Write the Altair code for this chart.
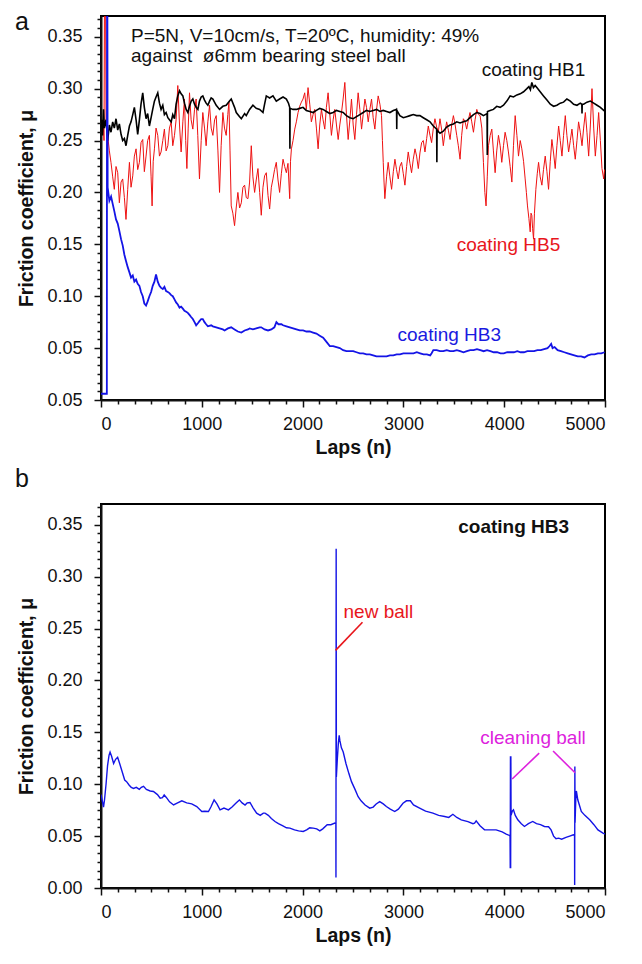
import altair as alt
import pandas as pd

# ---------------- Panel a data (laps, friction coefficient) ----------------
hb1_a = [[5,0.270],[15,0.255],[25,0.280],[33,0.262],[50,0.270],[66,0.250],[83,0.265],[99,0.258],[116,0.268],[132,0.262],[149,0.271],[166,0.260],[182,0.266],[199,0.256],[215,0.250],[232,0.252],[248,0.245],[265,0.255],[282,0.264],[298,0.268],[315,0.275],[331,0.282],[348,0.270],[364,0.256],[381,0.270],[397,0.285],[414,0.296],[430,0.282],[447,0.271],[463,0.276],[480,0.264],[497,0.272],[513,0.280],[530,0.288],[546,0.292],[563,0.296],[580,0.286],[596,0.280],[613,0.284],[629,0.275],[646,0.277],[663,0.272],[679,0.270],[696,0.268],[712,0.275],[729,0.271],[745,0.285],[762,0.293],[779,0.298],[795,0.295],[812,0.293],[828,0.286],[845,0.280],[862,0.277],[878,0.283],[895,0.288],[911,0.290],[928,0.285],[944,0.282],[961,0.280],[977,0.288],[994,0.292],[1010,0.293],[1027,0.289],[1043,0.286],[1060,0.284],[1077,0.288],[1093,0.291],[1110,0.290],[1143,0.284],[1176,0.280],[1209,0.283],[1242,0.284],[1275,0.288],[1292,0.290],[1325,0.282],[1342,0.277],[1375,0.273],[1392,0.271],[1425,0.276],[1441,0.274],[1474,0.280],[1507,0.284],[1540,0.281],[1574,0.280],[1607,0.277],[1623,0.285],[1640,0.293],[1673,0.291],[1706,0.293],[1739,0.288],[1772,0.290],[1806,0.292],[1839,0.290],[1860,0.286],[1872,0.282],[1874,0.242],[1876,0.281],[1905,0.280],[1938,0.280],[1971,0.281],[2004,0.282],[2037,0.279],[2071,0.278],[2104,0.277],[2137,0.279],[2170,0.281],[2203,0.280],[2236,0.278],[2270,0.276],[2303,0.277],[2336,0.279],[2369,0.278],[2402,0.277],[2435,0.274],[2469,0.272],[2502,0.271],[2535,0.273],[2568,0.275],[2601,0.277],[2634,0.279],[2667,0.278],[2701,0.279],[2734,0.280],[2767,0.278],[2800,0.279],[2833,0.278],[2866,0.277],[2900,0.279],[2932,0.280],[2934,0.261],[2936,0.279],[2965,0.274],[2999,0.272],[3032,0.273],[3065,0.274],[3098,0.275],[3131,0.274],[3164,0.274],[3197,0.272],[3231,0.270],[3264,0.268],[3297,0.264],[3330,0.261],[3332,0.229],[3334,0.260],[3363,0.257],[3396,0.259],[3429,0.263],[3463,0.265],[3496,0.266],[3529,0.268],[3562,0.267],[3595,0.268],[3628,0.269],[3661,0.272],[3695,0.275],[3728,0.277],[3761,0.276],[3794,0.274],[3830,0.276],[3832,0.236],[3834,0.278],[3860,0.279],[3893,0.280],[3926,0.283],[3960,0.282],[3993,0.284],[4026,0.288],[4059,0.293],[4092,0.292],[4126,0.294],[4159,0.295],[4192,0.297],[4225,0.300],[4245,0.302],[4260,0.299],[4274,0.306],[4290,0.301],[4307,0.303],[4324,0.301],[4357,0.297],[4390,0.293],[4424,0.289],[4457,0.285],[4490,0.283],[4523,0.284],[4556,0.286],[4589,0.287],[4622,0.290],[4656,0.288],[4689,0.285],[4722,0.284],[4755,0.286],[4770,0.285],[4772,0.276],[4774,0.285],[4788,0.285],[4821,0.287],[4855,0.288],[4888,0.286],[4921,0.284],[4954,0.282],[4987,0.279],[5000,0.278]]

hb5_a = [[20,0.27],[30,0.25],[35,0.40],[45,0.40],[50,0.27],[66,0.255],[83,0.240],[99,0.229],[116,0.215],[132,0.203],[149,0.225],[166,0.219],[182,0.190],[199,0.210],[215,0.213],[232,0.195],[248,0.174],[265,0.203],[282,0.229],[298,0.205],[315,0.216],[331,0.235],[348,0.242],[364,0.222],[381,0.229],[397,0.248],[414,0.251],[430,0.220],[447,0.235],[463,0.250],[480,0.255],[497,0.215],[507,0.187],[518,0.230],[530,0.242],[546,0.262],[563,0.255],[580,0.235],[596,0.239],[613,0.250],[629,0.261],[646,0.240],[663,0.245],[679,0.262],[696,0.268],[712,0.245],[729,0.255],[745,0.270],[762,0.303],[779,0.265],[795,0.239],[812,0.268],[828,0.290],[840,0.250],[852,0.223],[865,0.262],[878,0.296],[894,0.270],[911,0.261],[928,0.280],[944,0.290],[960,0.255],[977,0.213],[994,0.250],[1010,0.277],[1027,0.262],[1043,0.245],[1060,0.268],[1077,0.284],[1093,0.262],[1110,0.255],[1127,0.270],[1143,0.274],[1160,0.240],[1176,0.200],[1192,0.245],[1209,0.277],[1225,0.262],[1242,0.255],[1258,0.275],[1269,0.287],[1280,0.240],[1292,0.187],[1308,0.180],[1325,0.168],[1341,0.185],[1358,0.200],[1375,0.185],[1392,0.190],[1408,0.205],[1425,0.207],[1441,0.195],[1458,0.194],[1474,0.210],[1491,0.245],[1507,0.215],[1524,0.200],[1540,0.212],[1557,0.223],[1574,0.200],[1590,0.178],[1607,0.205],[1623,0.216],[1640,0.219],[1657,0.197],[1673,0.184],[1690,0.205],[1706,0.213],[1722,0.222],[1739,0.229],[1756,0.212],[1772,0.200],[1789,0.218],[1806,0.232],[1822,0.225],[1839,0.219],[1855,0.228],[1872,0.194],[1880,0.230],[1889,0.242],[1905,0.250],[1922,0.261],[1938,0.268],[1955,0.277],[1971,0.283],[1988,0.287],[2004,0.290],[2021,0.296],[2037,0.280],[2054,0.301],[2071,0.285],[2087,0.268],[2104,0.275],[2120,0.280],[2137,0.262],[2154,0.242],[2170,0.265],[2187,0.280],[2203,0.270],[2220,0.261],[2236,0.282],[2253,0.296],[2270,0.275],[2286,0.255],[2303,0.270],[2319,0.280],[2336,0.265],[2353,0.251],[2369,0.265],[2386,0.277],[2402,0.290],[2419,0.306],[2435,0.275],[2452,0.251],[2469,0.270],[2485,0.290],[2502,0.265],[2518,0.251],[2535,0.275],[2551,0.296],[2568,0.280],[2585,0.261],[2601,0.275],[2618,0.290],[2634,0.282],[2651,0.268],[2667,0.280],[2684,0.290],[2700,0.272],[2717,0.261],[2734,0.280],[2750,0.293],[2767,0.285],[2783,0.274],[2792,0.250],[2800,0.229],[2808,0.210],[2816,0.194],[2833,0.215],[2849,0.229],[2866,0.215],[2883,0.203],[2900,0.220],[2916,0.232],[2932,0.222],[2949,0.213],[2965,0.225],[2982,0.229],[2999,0.218],[3015,0.207],[3032,0.225],[3048,0.239],[3065,0.228],[3081,0.219],[3098,0.232],[3115,0.242],[3131,0.235],[3148,0.223],[3164,0.238],[3181,0.248],[3197,0.250],[3214,0.239],[3231,0.252],[3247,0.264],[3264,0.255],[3280,0.248],[3297,0.262],[3313,0.271],[3330,0.263],[3346,0.258],[3363,0.271],[3380,0.260],[3396,0.245],[3413,0.258],[3429,0.268],[3446,0.260],[3463,0.251],[3479,0.265],[3496,0.274],[3512,0.266],[3529,0.255],[3545,0.245],[3562,0.232],[3578,0.255],[3595,0.271],[3612,0.268],[3628,0.261],[3645,0.270],[3661,0.277],[3678,0.268],[3695,0.258],[3711,0.270],[3728,0.280],[3745,0.275],[3761,0.274],[3778,0.262],[3794,0.229],[3808,0.200],[3820,0.187],[3832,0.215],[3844,0.245],[3861,0.255],[3877,0.261],[3893,0.240],[3910,0.219],[3926,0.240],[3943,0.255],[3960,0.245],[3976,0.229],[3993,0.245],[4009,0.258],[4026,0.250],[4042,0.239],[4059,0.225],[4076,0.210],[4092,0.245],[4109,0.274],[4126,0.255],[4142,0.235],[4159,0.250],[4175,0.242],[4192,0.230],[4208,0.213],[4220,0.200],[4231,0.187],[4245,0.175],[4258,0.162],[4266,0.180],[4274,0.178],[4282,0.165],[4291,0.155],[4300,0.180],[4314,0.203],[4328,0.218],[4341,0.229],[4357,0.215],[4374,0.207],[4390,0.222],[4407,0.235],[4424,0.220],[4440,0.203],[4457,0.230],[4473,0.251],[4490,0.238],[4506,0.223],[4523,0.245],[4540,0.264],[4556,0.250],[4573,0.235],[4589,0.255],[4606,0.274],[4622,0.255],[4639,0.239],[4656,0.250],[4672,0.261],[4689,0.245],[4705,0.232],[4722,0.250],[4738,0.268],[4755,0.258],[4772,0.245],[4788,0.262],[4805,0.277],[4821,0.258],[4838,0.235],[4855,0.265],[4871,0.300],[4888,0.262],[4904,0.235],[4921,0.255],[4937,0.277],[4954,0.250],[4970,0.223],[4987,0.213],[4995,0.222]]

hb3_a = [[0,0.006],[58,0.006],[60,0.40],[63,0.40],[66,0.205],[83,0.192],[100,0.196],[116,0.189],[132,0.182],[149,0.174],[166,0.170],[182,0.163],[199,0.155],[215,0.149],[232,0.140],[248,0.134],[265,0.128],[282,0.123],[298,0.118],[315,0.120],[331,0.114],[348,0.116],[364,0.112],[381,0.110],[397,0.104],[414,0.100],[430,0.093],[447,0.091],[463,0.095],[480,0.100],[497,0.104],[513,0.110],[530,0.114],[546,0.121],[563,0.114],[580,0.110],[596,0.108],[613,0.107],[629,0.109],[646,0.105],[663,0.104],[679,0.103],[696,0.101],[712,0.100],[729,0.097],[745,0.094],[762,0.092],[779,0.089],[795,0.090],[812,0.088],[828,0.086],[845,0.085],[861,0.084],[878,0.082],[894,0.080],[911,0.078],[928,0.075],[944,0.072],[961,0.074],[977,0.076],[994,0.078],[1010,0.078],[1027,0.075],[1043,0.073],[1060,0.071],[1093,0.072],[1110,0.071],[1143,0.070],[1176,0.069],[1209,0.068],[1226,0.067],[1259,0.069],[1292,0.070],[1325,0.068],[1358,0.066],[1392,0.065],[1425,0.067],[1458,0.068],[1474,0.069],[1507,0.068],[1540,0.069],[1574,0.070],[1590,0.070],[1623,0.068],[1657,0.067],[1690,0.068],[1720,0.070],[1740,0.075],[1760,0.073],[1790,0.073],[1806,0.072],[1840,0.071],[1873,0.070],[1906,0.069],[1939,0.068],[1972,0.067],[2005,0.067],[2038,0.066],[2071,0.066],[2104,0.065],[2137,0.064],[2170,0.062],[2204,0.060],[2237,0.056],[2270,0.052],[2303,0.052],[2336,0.051],[2369,0.050],[2402,0.048],[2435,0.047],[2469,0.047],[2502,0.047],[2535,0.046],[2568,0.045],[2601,0.045],[2634,0.044],[2667,0.044],[2700,0.043],[2733,0.042],[2766,0.042],[2800,0.042],[2833,0.042],[2866,0.043],[2900,0.043],[2933,0.044],[2966,0.044],[3000,0.045],[3033,0.045],[3066,0.045],[3100,0.045],[3133,0.046],[3166,0.045],[3200,0.044],[3233,0.044],[3266,0.043],[3280,0.045],[3297,0.048],[3330,0.048],[3363,0.047],[3396,0.047],[3430,0.048],[3463,0.047],[3496,0.047],[3530,0.048],[3563,0.047],[3596,0.046],[3630,0.047],[3663,0.048],[3696,0.048],[3730,0.049],[3763,0.048],[3796,0.047],[3830,0.048],[3863,0.047],[3896,0.046],[3930,0.046],[3963,0.045],[3996,0.045],[4030,0.046],[4063,0.046],[4096,0.046],[4130,0.047],[4163,0.046],[4196,0.046],[4230,0.047],[4263,0.047],[4296,0.047],[4330,0.048],[4363,0.048],[4396,0.049],[4430,0.050],[4450,0.052],[4466,0.054],[4480,0.050],[4500,0.051],[4530,0.048],[4563,0.047],[4596,0.046],[4630,0.045],[4663,0.044],[4696,0.043],[4730,0.042],[4763,0.042],[4796,0.041],[4830,0.043],[4863,0.044],[4896,0.044],[4930,0.045],[4963,0.045],[4996,0.046]]

# ---------------- Panel b data ----------------
hb3_b = [[0,0.090],[15,0.083],[25,0.078],[35,0.085],[50,0.100],[65,0.118],[80,0.128],[90,0.131],[105,0.127],[125,0.120],[145,0.124],[165,0.126],[185,0.120],[210,0.112],[235,0.104],[254,0.1025],[280,0.099],[300,0.097],[323,0.096],[350,0.097],[380,0.095],[400,0.097],[422,0.098],[450,0.095],[488,0.0935],[520,0.093],[560,0.090],[587,0.0865],[610,0.087],[627,0.0897],[650,0.087],[680,0.083],[720,0.080],[760,0.082],[802,0.084],[850,0.082],[900,0.081],[950,0.0785],[1000,0.0737],[1030,0.074],[1066,0.0737],[1090,0.078],[1122,0.0849],[1150,0.081],[1181,0.0753],[1220,0.077],[1264,0.0753],[1300,0.078],[1340,0.082],[1373,0.0849],[1400,0.082],[1429,0.080],[1450,0.082],[1478,0.0824],[1510,0.077],[1544,0.0721],[1580,0.070],[1610,0.0721],[1627,0.0721],[1660,0.070],[1690,0.067],[1726,0.0641],[1760,0.062],[1800,0.060],[1840,0.058],[1874,0.0577],[1920,0.056],[1960,0.055],[2006,0.0545],[2040,0.056],[2070,0.058],[2105,0.0577],[2140,0.057],[2171,0.055],[2200,0.057],[2244,0.0609],[2280,0.061],[2320,0.0625],[2330,0.062],[2331,0.010],[2333,0.327],[2335,0.107],[2345,0.125],[2355,0.140],[2363,0.147],[2370,0.142],[2385,0.135],[2403,0.131],[2430,0.120],[2460,0.110],[2485,0.1025],[2520,0.095],[2551,0.088],[2580,0.084],[2620,0.080],[2666,0.0769],[2700,0.078],[2730,0.081],[2765,0.0833],[2800,0.081],[2831,0.0785],[2870,0.076],[2914,0.0737],[2950,0.076],[2996,0.0817],[3030,0.084],[3069,0.0840],[3100,0.080],[3161,0.0769],[3220,0.074],[3293,0.0721],[3350,0.070],[3409,0.0689],[3450,0.068],[3491,0.071],[3530,0.068],[3574,0.0657],[3640,0.064],[3690,0.062],[3706,0.0625],[3722,0.0647],[3760,0.060],[3805,0.056],[3860,0.056],[3920,0.056],[3980,0.054],[4020,0.052],[4052,0.0506],[4058,0.050],[4060,0.019],[4062,0.127],[4064,0.019],[4066,0.127],[4068,0.070],[4080,0.074],[4092,0.0753],[4110,0.070],[4135,0.0657],[4170,0.062],[4201,0.0593],[4240,0.062],[4283,0.0641],[4320,0.062],[4360,0.061],[4399,0.0593],[4440,0.059],[4465,0.056],[4490,0.050],[4514,0.0474],[4540,0.048],[4570,0.047],[4613,0.0487],[4650,0.050],[4686,0.0513],[4698,0.051],[4699,0.003],[4701,0.117],[4703,0.063],[4710,0.085],[4716,0.0935],[4730,0.085],[4765,0.0737],[4800,0.070],[4848,0.0657],[4890,0.061],[4930,0.056],[4980,0.0529],[5000,0.052]]

# annotation texts: x, y, text, colour, weight
labels_a = [
    [298, 0.351, "P=5N, V=10cm/s, T=20\u00baC, humidity: 49%", "#111111", "normal"],
    [298, 0.331, "against \u00a0\u00f86mm bearing steel ball", "#111111", "normal"],
    [3777, 0.3175, "coating HB1", "#111111", "normal"],
    [3529, 0.149, "coating HB5", "#e8161c", "normal"],
    [2942, 0.0625, "coating HB3", "#1a1ae0", "normal"],
]
labels_b = [
    [3544, 0.348, "coating HB3", "#111111", "bold"],
    [2406, 0.266, "new ball", "#e8161c", "normal"],
    [3762, 0.145, "cleaning ball", "#dd22dd", "normal"],
]
# leader lines in panel b: x, y, x2, y2, colour
leaders_b = [
    [2327, 0.229, 2594, 0.256, "#e8161c"],
    [4079, 0.105, 4347, 0.130, "#dd22dd"],
    [4485, 0.132, 4703, 0.111, "#dd22dd"],
]

XDOM = [0, 5000]
YDOM = [0, 0.37]
X_MAJOR = [0, 1000, 2000, 3000, 4000, 5000]
Y_MAJOR = [0, 0.05, 0.10, 0.15, 0.20, 0.25, 0.30, 0.35]
X_MINOR = [i * 1000 / 6 for i in range(31) if i % 6]
Y_MINOR = [round(i * 0.05 / 6, 6) for i in range(45) if i % 6 and i * 0.05 / 6 <= 0.37]

FONT = "Liberation Sans"
W, H = 504, 384


def series_df(points):
    return pd.DataFrame({"x": [p[0] for p in points], "y": [p[1] for p in points],
                         "i": list(range(len(points)))})


def xs():
    return alt.X("x:Q", scale=alt.Scale(domain=XDOM, nice=False, zero=False),
                 axis=alt.Axis(values=X_MAJOR, format="d", title="Laps (n)", tickSize=7, grid=False,
                               labelPadding=8, titlePadding=5))


def ys(label_expr):
    return alt.Y("y:Q", scale=alt.Scale(domain=YDOM, nice=False, zero=False),
                 axis=alt.Axis(values=Y_MAJOR, title="Friction coefficient, \u03bc", tickSize=7,
                               grid=False, labelExpr=label_expr, labelPadding=12, titlePadding=10))


def line(points, color, width, label_expr):
    return alt.Chart(series_df(points)).mark_line(color=color, strokeWidth=width, clip=True).encode(
        x=xs(), y=ys(label_expr), order="i:Q")


def text_layer(rows, label_expr):
    df = pd.DataFrame(rows, columns=["x", "y", "t", "c", "w"])
    layers = []
    for w in ["normal", "bold"]:
        sub = df[df.w == w]
        if len(sub):
            layers.append(alt.Chart(sub).mark_text(
                align="left", baseline="middle", fontSize=19, fontWeight=w, font=FONT).encode(
                x=xs(), y=ys(label_expr), text="t:N", color=alt.Color("c:N", scale=None)))
    return layers


def minor_axes():
    return alt.Chart(pd.DataFrame({"x": [0], "y": [0]})).mark_point(opacity=0).encode(
        x=alt.X("x:Q", scale=alt.Scale(domain=XDOM, nice=False, zero=False),
                axis=alt.Axis(orient="bottom", values=X_MINOR, labels=False, title=None,
                              domain=False, tickSize=4, grid=False)),
        y=alt.Y("y:Q", scale=alt.Scale(domain=YDOM, nice=False, zero=False),
                axis=alt.Axis(orient="left", values=Y_MINOR, labels=False, title=None,
                              domain=False, tickSize=4, grid=False)))


def letter(ch, dx, dy):
    return alt.Chart(pd.DataFrame({"t": [ch]})).mark_text(
        align="left", baseline="alphabetic", fontSize=25, font=FONT, color="#111111").encode(
        text="t:N", x=alt.value(dx), y=alt.value(dy))


# ---------------- Panel a ----------------
expr_a = "datum.value == 0 ? '0.05' : format(datum.value, '.2f')"
main_a = alt.layer(
    line(hb5_a, "#ee1111", 1.0, expr_a),
    line(hb1_a, "#000000", 1.6, expr_a),
    line(hb3_a, "#1414e6", 1.8, expr_a),
    *text_layer(labels_a, expr_a),
    letter("a", -86, 14),
)
panel_a = alt.layer(main_a, minor_axes()).resolve_scale(x="independent", y="independent").properties(
    width=W, height=H)

# ---------------- Panel b ----------------
expr_b = "format(datum.value, '.2f')"
lead_df = pd.DataFrame(leaders_b, columns=["x", "y", "x2", "y2", "c"])
leaders = alt.Chart(lead_df).mark_rule(strokeWidth=1.6).encode(
    x=xs(), y=ys(expr_b), x2="x2:Q", y2="y2:Q", color=alt.Color("c:N", scale=None))
main_b = alt.layer(
    line(hb3_b, "#1414e6", 1.4, expr_b),
    leaders,
    *text_layer(labels_b, expr_b),
    letter("b", -86, -17),
)
panel_b = alt.layer(main_b, minor_axes()).resolve_scale(x="independent", y="independent").properties(
    width=W, height=H)

chart = alt.vconcat(panel_a, panel_b, spacing=8).properties(
    padding={"left": 6, "top": 1, "right": 5, "bottom": 5}
).configure_view(stroke="black", strokeWidth=2).configure_axis(
    labelFont=FONT, titleFont=FONT, labelFontSize=18, titleFontSize=19.5, titleFontWeight="bold",
    labelColor="#111111", titleColor="#111111", tickColor="#111111", domainColor="#111111",
    domainWidth=2, tickWidth=1.5,
)

chart.save("out.html", embed_options={"renderer": "svg", "actions": False})
